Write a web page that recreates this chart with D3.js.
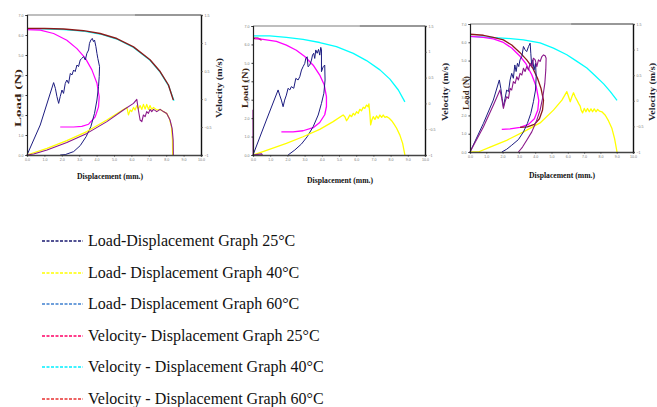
<!DOCTYPE html>
<html>
<head>
<meta charset="utf-8">
<script src="https://cdn.jsdelivr.net/npm/d3@7"></script>
<style>
  body { margin: 0; background: #fff; }
  svg { display: block; }
</style>
</head>
<body>
<div id="chart"></div>
<script>
// ticks
var xTicks = [0, 1, 2, 3, 4, 5, 6, 7, 8, 9, 10];
var loadTicks = [0, 1, 2, 3, 4, 5, 6, 7];
var velTicks = [-1, -0.5, 0, 0.5, 1, 1.5];

// legend
var legendLabels = [
  "Load-Displacement Graph 25°C",
  "Load- Displacement Graph 40°C",
  "Load- Displacement Graph 60°C",
  "Velocity- Displacement Graph 25°C",
  "Velocity - Displacement Graph 40°C",
  "Velocity - Displacement Graph 60°C"
];
var legendColors = ["#1a1a70", "#ffff00", "#3f80d0", "#ff0066", "#00f0ff", "#e83030"];

// chart 1  [displacement mm, value]
var c1Vel40 = [[0,1.25],[1,1.25],[2.1,1.24],[3.25,1.21],[4.2,1.16],[5.16,1.07],[6.12,0.92],[7.07,0.69],[7.65,0.48],[8.13,0.24],[8.45,-0.03]];
var c1Vel60 = [[0,1.26],[1,1.26],[2.1,1.25],[3.25,1.22],[4.2,1.17],[5.16,1.08],[6.12,0.93],[7.07,0.70],[7.65,0.49],[8.13,0.25],[8.41,-0.02]];
var c1Vel25 = [[0,1.24],[0.76,1.23],[1.53,1.17],[2.29,1.05],[2.87,0.9],[3.35,0.73],[3.73,0.52],[4.02,0.28],[4.15,0.04],[4.11,-0.14],[3.92,-0.32],[3.54,-0.45],[3.15,-0.49],[2.68,-0.5],[1.91,-0.5]];
var c1Load25 = [[0,0],[0.76,1.5],[1.53,3.62],[1.63,3.33],[1.72,2.92],[1.82,2.58],[1.91,2.92],[2.01,3.25],[2.1,3.08],[2.2,3.58],[2.29,3.75],[2.39,3.58],[2.49,4.08],[2.58,4.0],[2.68,4.25],[2.77,4.17],[2.87,4.5],[2.96,4.42],[3.06,4.75],[3.15,4.83],[3.25,4.92],[3.35,4.75],[3.44,5.08],[3.54,5.25],[3.59,5.58],[3.67,5.75],[3.75,5.83],[3.82,5.67],[3.88,5.75],[3.96,5.42],[4.02,5.08],[4.07,4.83],[4.17,4.42],[4.15,3.92],[4.11,3.42],[4.02,2.75],[3.88,2.08],[3.67,1.42],[3.4,0.92],[3.06,0.47],[2.68,0.17],[2.2,0.02],[1.91,0]];
var c1Load40 = [[0,0],[1.15,0.33],[2.29,0.72],[3.44,1.17],[4.59,1.75],[5.54,2.28],[5.74,2.38],[5.83,2.0],[5.93,2.25],[6.02,2.17],[6.12,2.38],[6.21,2.25],[6.31,2.47],[6.4,2.3],[6.5,2.47],[6.6,2.28],[6.69,2.53],[6.79,2.3],[6.88,2.53],[6.98,2.28],[7.07,2.47],[7.17,2.28],[7.27,2.38],[7.46,2.25],[7.65,2.28],[7.84,2.17],[8.03,2.08],[8.18,1.83],[8.3,1.42],[8.36,0.75],[8.37,0]];
var c1Load60 = [[0,0],[0.38,0.05],[1.15,0.25],[2.29,0.62],[3.44,1.08],[4.59,1.67],[5.54,2.25],[6.12,2.58],[6.31,2.78],[6.4,2.25],[6.5,1.75],[6.6,1.67],[6.69,2.0],[6.79,1.92],[6.88,2.17],[6.98,2.08],[7.07,2.28],[7.17,2.17],[7.27,2.28],[7.46,2.17],[7.65,2.28],[7.84,2.17],[8.03,2.08],[8.22,1.75],[8.34,1.33],[8.4,0.75],[8.41,0]];

// chart 2
var c2Vel40 = [[0,1.31],[0.97,1.31],[1.94,1.28],[2.91,1.24],[3.88,1.18],[4.85,1.1],[5.83,0.97],[6.6,0.83],[7.38,0.65],[7.96,0.47],[8.45,0.26],[8.83,0.03]];
var c2Vel60 = [[0,1.26],[0.3,1.26],[0.5,1.23]];
var c2Vel25 = [[0.1,1.26],[0.58,1.24],[1.36,1.2],[1.94,1.13],[2.52,1.03],[3.01,0.91],[3.5,0.74],[3.88,0.55],[4.14,0.36],[4.27,0.13],[4.27,-0.06],[4.17,-0.22],[3.88,-0.37],[3.5,-0.47],[2.91,-0.53],[2.33,-0.55],[1.65,-0.55]];
var c2Load25 = [[0,0],[0.78,1.9],[1.46,3.53],[1.55,3.25],[1.65,2.98],[1.75,2.62],[1.84,2.98],[1.94,3.25],[2.04,3.62],[2.14,3.53],[2.23,3.71],[2.37,3.62],[2.49,4.16],[2.62,4.07],[2.72,4.25],[2.82,4.61],[2.91,4.79],[3.01,4.97],[3.07,5.24],[3.15,5.33],[3.2,4.79],[3.3,4.88],[3.4,5.15],[3.46,5.42],[3.53,5.52],[3.59,5.24],[3.65,5.7],[3.73,5.52],[3.81,5.73],[3.88,5.42],[3.94,5.84],[3.98,5.7],[3.98,4.52],[4.08,4.79],[4.17,4.88],[4.19,4.07],[4.12,3.35],[3.98,2.8],[3.79,2.17],[3.5,1.54],[3.15,0.99],[2.82,0.6],[2.43,0.27],[2.04,0]];
var c2Load40 = [[0,0],[0.58,0.18],[1.94,0.63],[2.91,0.99],[3.88,1.39],[4.66,1.81],[5.24,2.17],[5.34,2.08],[5.44,1.86],[5.53,1.99],[5.63,2.17],[5.73,2.08],[5.83,2.26],[5.92,2.17],[6.02,2.35],[6.12,2.26],[6.21,2.48],[6.31,2.4],[6.41,2.59],[6.5,2.53],[6.6,2.71],[6.7,2.62],[6.74,2.77],[6.8,2.17],[6.84,1.63],[6.91,1.9],[6.99,2.08],[7.09,1.93],[7.18,2.12],[7.28,1.99],[7.38,2.17],[7.48,2.04],[7.57,2.17],[7.67,2.04],[7.77,2.08],[7.92,1.99],[8.06,1.86],[8.2,1.68],[8.35,1.45],[8.54,1.08],[8.7,0.63],[8.83,0]];
var c2Load60 = [[0,2.45],[0.01,0],[0.5,0.06],[0.55,0]];

// chart 3
var c3Vel40 = [[0,1.26],[1.23,1.24],[2.25,1.22],[3.28,1.19],[4.3,1.13],[5.12,1.03],[5.94,0.9],[6.56,0.77],[7.17,0.64],[7.68,0.49],[8.2,0.33],[8.61,0.18],[9.02,0.01]];
var c3Vel60 = [[0,1.3],[0.82,1.28],[1.43,1.24],[2.05,1.19],[2.56,1.09],[3.07,0.94],[3.48,0.8],[3.85,0.64],[4.14,0.44],[4.36,0.24],[4.51,0.01],[4.45,-0.18],[4.26,-0.35],[3.95,-0.46],[3.52,-0.51],[3.07,-0.52]];
var c3Vel25 = [[0,1.26],[0.82,1.24],[1.43,1.21],[2.05,1.14],[2.56,1.03],[3.07,0.87],[3.44,0.72],[3.79,0.51],[4.06,0.28],[4.22,0.01],[4.16,-0.18],[3.95,-0.35],[3.59,-0.46],[3.07,-0.52],[2.46,-0.55],[1.95,-0.56]];
var c3Load25 = [[0,0],[0.82,1.56],[1.43,2.84],[1.8,3.94],[1.89,3.48],[1.97,2.93],[2.05,2.47],[2.15,2.93],[2.25,3.39],[2.36,3.3],[2.46,3.94],[2.56,4.3],[2.66,4.03],[2.75,4.76],[2.83,4.4],[2.91,4.85],[2.99,4.67],[3.07,5.04],[3.18,5.22],[3.28,5.77],[3.38,5.59],[3.48,5.49],[3.59,5.77],[3.69,5.95],[3.73,5.4],[3.79,4.67],[3.85,5.04],[3.93,4.49],[4.02,4.85],[4.06,4.12],[4.02,3.39],[3.89,2.75],[3.73,2.11],[3.52,1.56],[3.28,1.1],[2.97,0.68],[2.56,0.37],[2.25,0.15],[1.95,0]];
var c3Load40 = [[0,0],[0.51,0],[1.23,0.27],[2.25,0.64],[3.28,1.1],[4.3,1.59],[5.12,2.29],[5.64,2.84],[5.94,3.3],[6.05,3.02],[6.15,2.75],[6.25,3.02],[6.35,3.24],[6.45,3.02],[6.56,2.84],[6.66,2.66],[6.76,2.51],[6.82,2.29],[6.91,2.14],[7.01,2.38],[7.11,2.2],[7.21,2.38],[7.32,2.2],[7.42,2.36],[7.52,2.2],[7.62,2.36],[7.73,2.2],[7.83,2.33],[7.95,2.23],[8.09,2.2],[8.3,2.01],[8.5,1.7],[8.71,1.28],[8.87,0.73],[9.02,0]];
var c3Load60 = [[0,0],[0.82,1.37],[1.43,2.56],[1.84,3.39],[1.93,3.02],[2.05,2.38],[2.15,2.75],[2.25,3.02],[2.36,2.93],[2.46,3.48],[2.56,3.39],[2.66,3.85],[2.77,3.75],[2.87,4.12],[2.97,3.94],[3.07,4.3],[3.18,4.21],[3.28,4.58],[3.38,4.4],[3.48,4.67],[3.59,4.49],[3.69,4.85],[3.79,4.67],[3.89,5.13],[4.0,5.04],[4.1,4.67],[4.2,5.04],[4.3,4.95],[4.41,5.22],[4.51,5.31],[4.61,5.26],[4.67,5.13],[4.65,4.49],[4.59,3.75],[4.47,3.02],[4.3,2.29],[4.06,1.65],[3.79,1.1],[3.48,0.64],[3.22,0.27],[2.97,0]];

var W = 657, H = 407;
var svg = d3.select("#chart").append("svg").attr("width", W).attr("height", H);

var charts = [
  { x0: 27, x1: 201, top: 15, bottom: 155, xLabelY: 179, xLabelX: 110, loadX: 18, loadY: 98, loadLen: 58, velX: 219, velY: 88, velLen: 60,
    lines: [[c1Vel40, "vel", "#00ffff", 1.2], [c1Vel60, "vel", "#8b1a1a", 1.4], [c1Vel25, "vel", "#ff00ff", 1.2],
            [c1Load25, "load", "#1c1c80", 1], [c1Load40, "load", "#ffff00", 1.2], [c1Load60, "load", "#8b1a8b", 1.1]] },
  { x0: 253, x1: 425, top: 26, bottom: 155, xLabelY: 183, xLabelX: 340, loadX: 245, loadY: 88, loadLen: 40, velX: 445, velY: 92, velLen: 58,
    lines: [[c2Vel40, "vel", "#00ffff", 1.3], [c2Vel60, "vel", "#8b1a1a", 1.6], [c2Vel25, "vel", "#ff00ff", 1.3],
            [c2Load25, "load", "#1c1c80", 1], [c2Load40, "load", "#ffff00", 1.3], [c2Load60, "load", "#8b1a8b", 1.2]] },
  { x0: 470, x1: 633, top: 24, bottom: 152, xLabelY: 178, xLabelX: 562, loadX: 466, loadY: 93, loadLen: 34, velX: 652, velY: 92, velLen: 58,
    lines: [[c3Vel40, "vel", "#00ffff", 1.3], [c3Vel25, "vel", "#ff00ff", 1.3], [c3Vel60, "vel", "#8b1a1a", 1.3],
            [c3Load40, "load", "#ffff00", 1.3], [c3Load25, "load", "#1c1c80", 1], [c3Load60, "load", "#8b1a8b", 1.1]] }
];

charts.forEach(function (c) {
  var x = d3.scaleLinear().domain([0, 10]).range([c.x0, c.x1]);
  var yLoad = d3.scaleLinear().domain([0, 7]).range([c.bottom, c.top]);
  var yVel = d3.scaleLinear().domain([-1, 1.5]).range([c.bottom, c.top]);
  var g = svg.append("g");

  // lines
  c.lines.forEach(function (l) {
    var ys = l[1] == "load" ? yLoad : yVel;
    var line = d3.line().x(function (d) { return x(d[0]); }).y(function (d) { return ys(d[1]); });
    g.append("path").datum(l[0]).attr("d", line)
      .attr("fill", "none").attr("stroke", l[2]).attr("stroke-width", l[3])
      .attr("stroke-linejoin", "round");
  });

  // frame top: gray then dark
  var split = c.x0 + (c.x1 - c.x0) * 0.62;
  g.append("line").attr("x1", c.x0).attr("x2", split).attr("y1", c.top).attr("y2", c.top)
    .attr("stroke", "#a8a8a8").attr("stroke-width", 1.6);
  g.append("line").attr("x1", split).attr("x2", c.x1).attr("y1", c.top).attr("y2", c.top)
    .attr("stroke", "#333").attr("stroke-width", 1.2);

  var tickStyle = function (sel) {
    sel.selectAll("text").attr("font-size", "3.6px").attr("fill", "#777").attr("font-family", "Liberation Sans, sans-serif");
    sel.selectAll("line").attr("stroke", "#333");
  };

  var xa = g.append("g").attr("transform", "translate(0," + c.bottom + ")")
    .call(d3.axisBottom(x).tickValues(xTicks).tickSize(1.5).tickPadding(2).tickFormat(d3.format(".1f")));
  xa.select(".domain").attr("stroke", "#444").attr("stroke-width", 1.5);
  tickStyle(xa);

  var la = g.append("g").attr("transform", "translate(" + c.x0 + ",0)")
    .call(d3.axisLeft(yLoad).tickValues(loadTicks).tickSize(1.5).tickPadding(2));
  la.select(".domain").attr("stroke", "#222").attr("stroke-width", 1.2);
  tickStyle(la);

  var ra = g.append("g").attr("transform", "translate(" + c.x1 + ",0)")
    .call(d3.axisRight(yVel).tickValues(velTicks).tickSize(1.5).tickPadding(2).tickFormat(d3.format("")));
  ra.select(".domain").attr("stroke", "#111").attr("stroke-width", 1.4);
  tickStyle(ra);

  // axis titles
  g.append("text").attr("x", c.xLabelX).attr("y", c.xLabelY)
    .attr("text-anchor", "middle").attr("font-family", "Liberation Serif, serif").attr("font-weight", "bold")
    .attr("font-size", "9px").attr("fill", "#111")
    .attr("textLength", 66).attr("lengthAdjust", "spacingAndGlyphs")
    .text("Displacement (mm.)");
  g.append("text").attr("transform", "translate(" + c.loadX + "," + c.loadY + ") rotate(-90)")
    .attr("text-anchor", "middle").attr("dy", "0.35em").attr("font-family", "Liberation Serif, serif").attr("font-weight", "bold")
    .attr("font-size", "9px").attr("fill", "#3a2412")
    .attr("textLength", c.loadLen).attr("lengthAdjust", "spacingAndGlyphs")
    .text("Load (N)");
  g.append("text").attr("transform", "translate(" + c.velX + "," + c.velY + ") rotate(-90)")
    .attr("text-anchor", "middle").attr("dy", "0.35em").attr("font-family", "Liberation Serif, serif").attr("font-weight", "bold")
    .attr("font-size", "9px").attr("fill", "#1e1e2e")
    .attr("textLength", c.velLen).attr("lengthAdjust", "spacingAndGlyphs")
    .text("Velocity (m/s)");
});

// legend
var rowY = d3.scaleLinear().domain([0, 5]).range([240, 398]);
var lg = svg.append("g").selectAll("g").data(legendLabels).enter().append("g")
  .attr("transform", function (d, i) { return "translate(0," + Math.round(rowY(i)) + ")"; });
lg.append("line").attr("x1", 42).attr("x2", 83).attr("y1", 1).attr("y2", 1)
  .attr("stroke", function (d, i) { return legendColors[i]; })
  .attr("stroke-width", 1.4).attr("stroke-dasharray", "3,1.5");
lg.append("text").attr("x", 88).attr("y", 0).attr("dy", "0.35em")
  .attr("font-family", "Liberation Serif, serif").attr("font-size", "16px").attr("fill", "#111")
  .text(function (d) { return d; });
</script>
</body>
</html>
